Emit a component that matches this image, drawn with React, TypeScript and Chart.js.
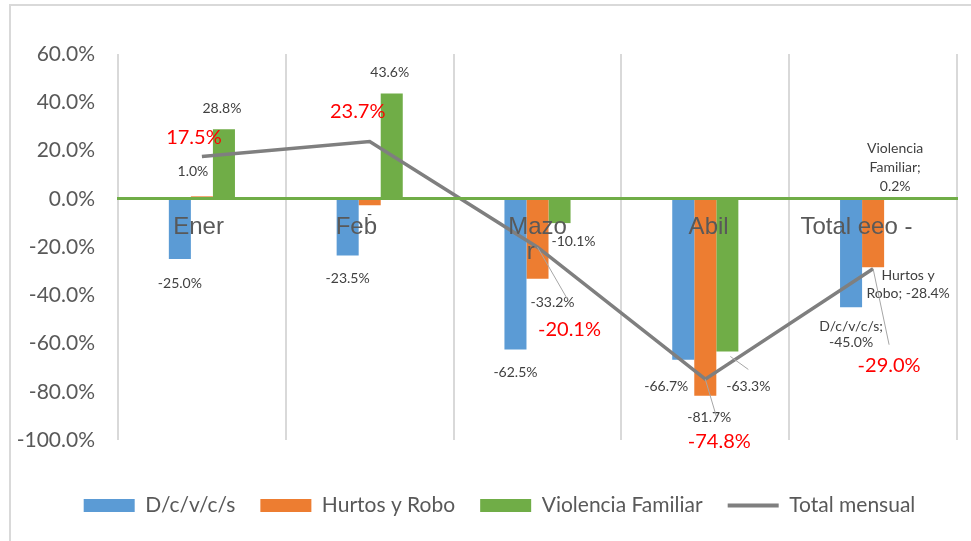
import React, { useEffect, useRef } from "react";
import { Chart, registerables } from "chart.js";

Chart.register(...registerables);

// ---- data ----
const categories: (string | string[])[] = ["Ener ", "Feb    ", ["Mazo", "r  "], " Abil", "Total eeo -     "];
const seriesNames = ["D/c/v/c/s", "Hurtos y Robo", "Violencia Familiar", "Total mensual"];
const dcvcs = [-25.0, -23.5, -62.5, -66.7, -45.0];
const hurtos = [1.0, -2.7, -33.2, -81.7, -28.4];
const violencia = [28.8, 43.6, -10.1, -63.3, 0.2];
const totalMensual = [17.5, 23.7, -20.1, -74.8, -29.0];
const yMin = -100;
const yMax = 60;
const yStep = 20;

const fmt = (v: number) => v.toFixed(1) + "%";

// label texts (last category shows "series; value")
const dcvcsLabels: (string | string[])[] = dcvcs.map((v, i) =>
  i === 4 ? [seriesNames[0] + ";", fmt(v)] : fmt(v)
);
const hurtosLabels: (string | string[])[] = hurtos.map((v, i) =>
  i === 1 ? "-" : i === 4 ? ["Hurtos y", "Robo; " + fmt(v)] : fmt(v)
);
const violenciaLabels: (string | string[])[] = violencia.map((v, i) =>
  i === 4 ? ["Violencia", "Familiar;", fmt(v)] : fmt(v)
);
const totalLabels: string[] = totalMensual.map(fmt);

// ---- label placement (offsets from each mark's anchor, in px) ----
type Place = { dx: number; dy: number; lead?: [number, number, number, number] };
const dcvcsPlace: Place[] = [
  { dx: 0, dy: 24 },
  { dx: 0, dy: 23 },
  { dx: 0, dy: 23 },
  { dx: -17, dy: 27 },
  { dx: 0, dy: 27 },
];
const hurtosPlace: Place[] = [
  { dx: -9, dy: -25 },
  { dx: 0, dy: 9 },
  { dx: 15, dy: 24 },
  { dx: 4, dy: 22 },
  { dx: 35, dy: 17 },
];
const violenciaPlace: Place[] = [
  { dx: -2, dy: -21 },
  { dx: -2, dy: -21 },
  { dx: 14, dy: 18 },
  { dx: 21, dy: 35, lead: [3, 5, 21, 18] },
  { dx: 0, dy: -31 },
];
const totalPlace: Place[] = [
  { dx: -8, dy: -19 },
  { dx: -12, dy: -30 },
  { dx: 32, dy: 82, lead: [0, 0, 30, 52] },
  { dx: 14, dy: 62, lead: [0, 0, 11, 37] },
  { dx: 16, dy: 97, lead: [0, 0, 16, 76] },
];

const labelSets = [
  { texts: dcvcsLabels, place: dcvcsPlace, color: "#404040", font: "14px Lato", lh: 16 },
  { texts: hurtosLabels, place: hurtosPlace, color: "#404040", font: "14px Lato", lh: 18 },
  { texts: violenciaLabels, place: violenciaPlace, color: "#404040", font: "14px Lato", lh: 19 },
  { texts: totalLabels, place: totalPlace, color: "#FF0000", font: "20px Lato", lh: 22 },
];

const framePlugin = {
  id: "frame",
  afterLayout(chart: any) {
    // let the value-axis labels extend left of the axis box without being clipped
    if (chart.scales.y) chart.scales.y.left = 0;
  },
  beforeDraw(chart: any) {
    const ctx = chart.ctx;
    ctx.save();
    ctx.strokeStyle = "#D9D9D9";
    ctx.lineWidth = 2;
    ctx.strokeRect(10, 5, 2000, 2000);
    ctx.restore();
  },
};

const dataLabelPlugin = {
  id: "manualDataLabels",
  afterDraw(chart: any) {
    const ctx = chart.ctx;
    ctx.save();
    labelSets.forEach((set, di) => {
      const meta = chart.getDatasetMeta(di);
      meta.data.forEach((el: any, i: number) => {
        const p = set.place[i];
        const t = set.texts[i];
        if (!p || t === undefined) return;
        const { x, y } = el.getProps(["x", "y"], true);
        if (p.lead) {
          ctx.strokeStyle = "#A6A6A6";
          ctx.lineWidth = 1;
          ctx.beginPath();
          ctx.moveTo(x + p.lead[0], y + p.lead[1]);
          ctx.lineTo(x + p.lead[2], y + p.lead[3]);
          ctx.stroke();
        }
        const lines = Array.isArray(t) ? t : [t];
        ctx.fillStyle = set.color;
        ctx.font = set.font;
        ctx.textAlign = "center";
        ctx.textBaseline = "middle";
        lines.forEach((ln, k) => {
          ctx.fillText(ln, x + p.dx, y + p.dy + (k - (lines.length - 1) / 2) * set.lh);
        });
      });
    });
    ctx.restore();
  },
};

export default function App() {
  const ref = useRef<HTMLCanvasElement | null>(null);
  useEffect(() => {
    if (!ref.current) return;
    const chart = new Chart(ref.current, {
      type: "bar",
      data: {
        labels: categories as any,
        datasets: [
          { label: seriesNames[0], data: dcvcs, backgroundColor: "#5B9BD5", borderWidth: 0, barPercentage: 1, categoryPercentage: 0.394 },
          { label: seriesNames[1], data: hurtos, backgroundColor: "#ED7D31", borderWidth: 0, barPercentage: 1, categoryPercentage: 0.394 },
          { label: seriesNames[2], data: violencia, backgroundColor: "#70AD47", borderWidth: 0, barPercentage: 1, categoryPercentage: 0.394 },
          {
            type: "line",
            label: seriesNames[3],
            data: totalMensual,
            borderColor: "#7F7F7F",
            backgroundColor: "#7F7F7F",
            borderWidth: 3.5,
            pointRadius: 0,
            tension: 0,
            fill: false,
            order: -1,
          } as any,
        ],
      },
      options: {
        animation: false,
        responsive: false,
        devicePixelRatio: 1,
        layout: { padding: { left: 42, right: 14, top: 54, bottom: 15 } },
        scales: {
          x: {
            position: { y: 0 } as any,
            offset: true,
            grid: { display: true, color: "#D9D9D9", lineWidth: 2, drawTicks: false, offset: true },
            border: { display: true, color: "#70AD47", width: 3, z: 1 } as any,
            ticks: {
              z: 2,
              autoSkip: false,
              maxRotation: 0,
              padding: 16,
              color: "#595959",
              font: { family: "'Liberation Sans', Arial, sans-serif", size: 24, lineHeight: 1.05 },
            },
          },
          y: {
            min: yMin,
            max: yMax,
            grid: { display: false, drawTicks: false },
            border: { display: false },
            afterFit: (scale: any) => {
              scale.width = 76;
            },
            ticks: {
              stepSize: yStep,
              padding: 23,
              color: "#595959",
              font: { family: "Lato, sans-serif", size: 21 },
              callback: (v: any) => Number(v).toFixed(1) + "%",
            },
          },
        },
        plugins: {
          tooltip: { enabled: false },
          legend: {
            position: "bottom",
            title: { display: true, text: " ", padding: 0, font: { size: 25, lineHeight: 1.2 } },
            labels: {
              usePointStyle: true,
              pointStyleWidth: 51,
              boxWidth: 51,
              boxHeight: 13,
              padding: 25,
              color: "#595959",
              font: { family: "Lato, sans-serif", size: 21 },
              sort: (a: any, b: any) => a.datasetIndex - b.datasetIndex,
              generateLabels: (chart: any) => {
                const items = Chart.defaults.plugins.legend.labels.generateLabels(chart);
                items.forEach((it: any) => {
                  if (it.datasetIndex === 3) {
                    it.pointStyle = "line";
                    it.lineWidth = 4;
                    it.strokeStyle = "#7F7F7F";
                  } else {
                    it.pointStyle = "rect";
                    it.lineWidth = 0;
                  }
                });
                return items;
              },
            },
          },
        },
      },
      plugins: [framePlugin, dataLabelPlugin],
    });
    return () => chart.destroy();
  }, []);
  return (
    <div style={{ position: "absolute", left: 0, top: 0, width: 971, height: 541, background: "#fff" }}>
      <canvas ref={ref} width={971} height={541} />
    </div>
  );
}
